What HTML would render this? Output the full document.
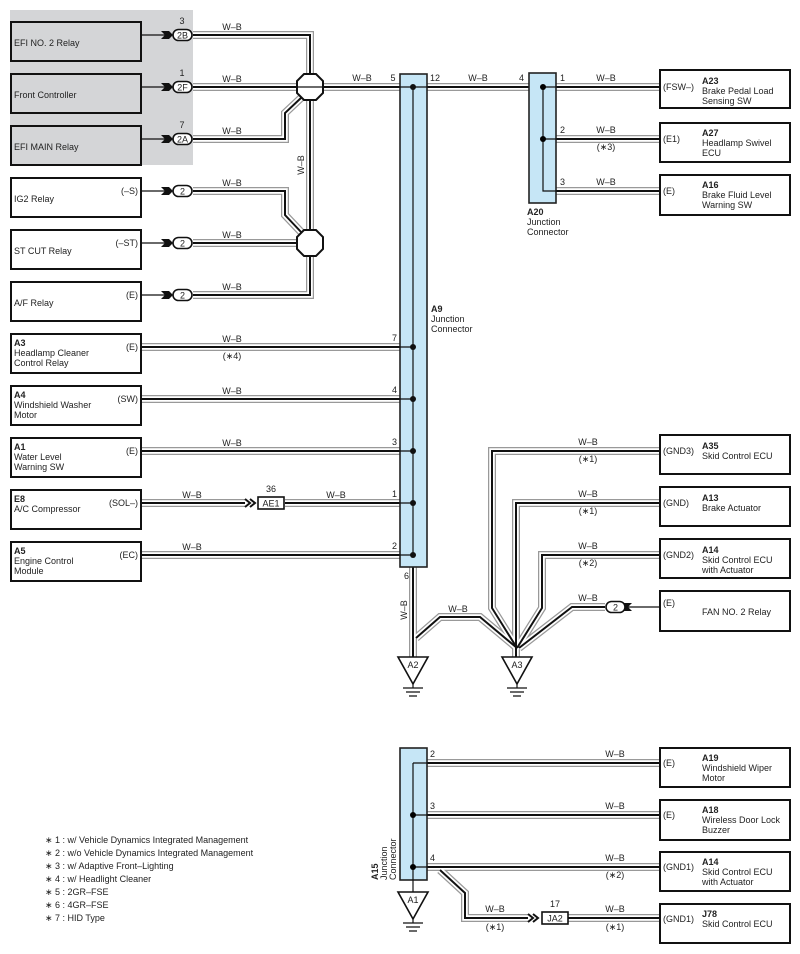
<!DOCTYPE html>
<html><head><meta charset="utf-8"><style>
html,body{margin:0;padding:0;background:#fff}
svg{display:block}
text{font-family:"Liberation Sans",sans-serif;font-size:9px;fill:#222}
.b{font-weight:bold}
.box{fill:#fff;stroke:#111;stroke-width:2}
.gbox{fill:#d4d5d7;stroke:#111;stroke-width:2}
.bar{fill:#c6e6f6;stroke:#222;stroke-width:1.6}
.pill{fill:#fff;stroke:#111;stroke-width:1.6}
.ln{stroke:#111;stroke-width:1.2;fill:none}
</style></head><body>
<svg width="800" height="954" viewBox="0 0 800 954" xmlns="http://www.w3.org/2000/svg">
<defs>
<g id="w" fill="none">
<path d="M193,35 H310 V75"/>
<path d="M193,87 H400"/>
<path d="M193,139 H285 V113 L302,97"/>
<path d="M310,99 V231"/>
<path d="M193,191 H285 V215 L302,233"/>
<path d="M193,243 H296"/>
<path d="M193,295 H310 V257"/>
<path d="M427,87 H529"/>
<path d="M556,87 H660"/>
<path d="M556,139 H660"/>
<path d="M556,191 H660"/>
<path d="M141,347 H400"/>
<path d="M141,399 H400"/>
<path d="M141,451 H400"/>
<path d="M141,503 H245"/>
<path d="M285,503 H400"/>
<path d="M141,555 H400"/>
<path d="M413,567 V657"/>
<path d="M416,638 L440,617 H480 L517,648"/>
<path d="M660,451 H492 V608 L517,648"/>
<path d="M660,503 H516 V657"/>
<path d="M660,555 H542 V608 L517,648"/>
<path d="M605,607 H572 L519,648"/>
<path d="M427,763 H660"/>
<path d="M427,815 H660"/>
<path d="M427,867 H660"/>
<path d="M440,870 L465,893 V918 H528"/>
<path d="M568,918 H660"/>
</g>
</defs>
<rect x="10" y="10" width="183" height="155" fill="#d4d5d7"/>
<g stroke-linejoin="miter">
<use href="#w" stroke="#999" stroke-width="8"/>
<use href="#w" stroke="#fff" stroke-width="5.5"/>
<use href="#w" stroke="#111" stroke-width="2"/>
</g>

<rect class="gbox" x="11" y="22" width="130" height="39"/><text x="14" y="46">EFI NO. 2 Relay</text>
<rect class="gbox" x="11" y="74" width="130" height="39"/><text x="14" y="98">Front Controller</text>
<rect class="gbox" x="11" y="126" width="130" height="39"/><text x="14" y="150">EFI MAIN Relay</text>
<rect class="box" x="11" y="178" width="130" height="39"/><text x="14" y="202">IG2 Relay</text><text x="138" y="194" text-anchor="end">(–S)</text>
<rect class="box" x="11" y="230" width="130" height="39"/><text x="14" y="254">ST CUT Relay</text><text x="138" y="246" text-anchor="end">(–ST)</text>
<rect class="box" x="11" y="282" width="130" height="39"/><text x="14" y="306">A/F Relay</text><text x="138" y="298" text-anchor="end">(E)</text>
<rect class="box" x="11" y="334" width="130" height="39"/><text x="14" y="346" class="b">A3</text><text x="14" y="356">Headlamp Cleaner</text><text x="14" y="366">Control Relay</text><text x="138" y="350" text-anchor="end">(E)</text>
<rect class="box" x="11" y="386" width="130" height="39"/><text x="14" y="398" class="b">A4</text><text x="14" y="408">Windshield Washer</text><text x="14" y="418">Motor</text><text x="138" y="402" text-anchor="end">(SW)</text>
<rect class="box" x="11" y="438" width="130" height="39"/><text x="14" y="450" class="b">A1</text><text x="14" y="460">Water Level</text><text x="14" y="470">Warning SW</text><text x="138" y="454" text-anchor="end">(E)</text>
<rect class="box" x="11" y="490" width="130" height="39"/><text x="14" y="502" class="b">E8</text><text x="14" y="512">A/C Compressor</text><text x="138" y="506" text-anchor="end">(SOL–)</text>
<rect class="box" x="11" y="542" width="130" height="39"/><text x="14" y="554" class="b">A5</text><text x="14" y="564">Engine Control</text><text x="14" y="574">Module</text><text x="138" y="558" text-anchor="end">(EC)</text>

<g>
<path class="ln" d="M141,35H166M141,87H166M141,139H166M141,191H166M141,243H166M141,295H166"/>
<g fill="#111">
<path d="M161,31 L169,31 L173,35 L169,39 L161,39 L165,35Z"/>
<path d="M161,83 L169,83 L173,87 L169,91 L161,91 L165,87Z"/>
<path d="M161,135 L169,135 L173,139 L169,143 L161,143 L165,139Z"/>
<path d="M161,187 L169,187 L173,191 L169,195 L161,195 L165,191Z"/>
<path d="M161,239 L169,239 L173,243 L169,247 L161,247 L165,243Z"/>
<path d="M161,291 L169,291 L173,295 L169,299 L161,299 L165,295Z"/>
</g>
<rect class="pill" x="173" y="29.5" width="19" height="11" rx="5.5"/><text x="182.5" y="38.5" text-anchor="middle">2B</text><text x="182" y="24" text-anchor="middle">3</text>
<rect class="pill" x="173" y="81.5" width="19" height="11" rx="5.5"/><text x="182.5" y="90.5" text-anchor="middle">2F</text><text x="182" y="76" text-anchor="middle">1</text>
<rect class="pill" x="173" y="133.5" width="19" height="11" rx="5.5"/><text x="182.5" y="142.5" text-anchor="middle">2A</text><text x="182" y="128" text-anchor="middle">7</text>
<rect class="pill" x="173" y="185.5" width="19" height="11" rx="5.5"/><text x="182.5" y="194.5" text-anchor="middle">2</text>
<rect class="pill" x="173" y="237.5" width="19" height="11" rx="5.5"/><text x="182.5" y="246.5" text-anchor="middle">2</text>
<rect class="pill" x="173" y="289.5" width="19" height="11" rx="5.5"/><text x="182.5" y="298.5" text-anchor="middle">2</text>
</g>

<polygon fill="#fff" stroke="#111" stroke-width="2" points="304,74 316,74 323,81 323,93 316,100 304,100 297,93 297,81"/>
<polygon fill="#fff" stroke="#111" stroke-width="2" points="304,230 316,230 323,237 323,249 316,256 304,256 297,249 297,237"/>

<g text-anchor="middle">
<text x="232" y="30">W–B</text><text x="232" y="82">W–B</text><text x="232" y="134">W–B</text>
<text x="232" y="186">W–B</text><text x="232" y="238">W–B</text><text x="232" y="290">W–B</text>
<text x="362" y="81">W–B</text><text x="393" y="81">5</text>
<text x="478" y="81">W–B</text>
<text x="232" y="342">W–B</text><text x="232" y="359">(∗4)</text>
<text x="232" y="394">W–B</text><text x="232" y="446">W–B</text>
<text x="192" y="498">W–B</text><text x="336" y="498">W–B</text>
<text x="192" y="550">W–B</text>
<text x="606" y="81">W–B</text><text x="606" y="133">W–B</text><text x="606" y="150">(∗3)</text><text x="606" y="185">W–B</text>
<text x="588" y="445">W–B</text><text x="588" y="462">(∗1)</text>
<text x="588" y="497">W–B</text><text x="588" y="514">(∗1)</text>
<text x="588" y="549">W–B</text><text x="588" y="566">(∗2)</text>
<text x="588" y="601">W–B</text>
<text x="458" y="612">W–B</text>
<text x="615" y="757">W–B</text><text x="615" y="809">W–B</text><text x="615" y="861">W–B</text><text x="615" y="878">(∗2)</text>
<text x="495" y="912">W–B</text><text x="495" y="930">(∗1)</text>
<text x="615" y="912">W–B</text><text x="615" y="930">(∗1)</text>
</g>
<text transform="translate(304,165) rotate(-90)" text-anchor="middle">W–B</text>
<text transform="translate(407,610) rotate(-90)" text-anchor="middle">W–B</text>

<rect class="bar" x="400" y="74" width="27" height="493"/>
<path class="ln" d="M413,87V555"/>
<g fill="#111"><circle cx="413" cy="87" r="3"/><circle cx="413" cy="347" r="3"/><circle cx="413" cy="399" r="3"/><circle cx="413" cy="451" r="3"/><circle cx="413" cy="503" r="3"/><circle cx="413" cy="555" r="3"/></g>
<path class="ln" d="M141,347H413M141,399H413M141,451H413M141,503H245M285,503H413M141,555H413M193,87H413M413,87H529"/>
<g text-anchor="end"><text x="397" y="341">7</text><text x="397" y="393">4</text><text x="397" y="445">3</text><text x="397" y="497">1</text><text x="397" y="549">2</text><text x="409" y="579">6</text></g>
<text x="430" y="81">12</text><text x="524" y="81" text-anchor="end">4</text>
<text x="431" y="312" class="b">A9</text><text x="431" y="322">Junction</text><text x="431" y="332">Connector</text>

<path d="M245,499 L250,503 L245,507 M250,499 L255,503 L250,507" stroke="#111" stroke-width="2" fill="none"/>
<rect x="258" y="497" width="26" height="12" fill="#fff" stroke="#111" stroke-width="1.6"/><text x="271" y="506.5" text-anchor="middle">AE1</text><text x="271" y="492" text-anchor="middle">36</text>

<rect class="bar" x="529" y="73" width="27" height="130"/>
<path class="ln" d="M543,87V191H660M543,87H660M543,139H660"/>
<circle cx="543" cy="87" r="3"/><circle cx="543" cy="139" r="3"/>
<text x="560" y="81">1</text><text x="560" y="133">2</text><text x="560" y="185">3</text>
<text x="527" y="215" class="b">A20</text><text x="527" y="225">Junction</text><text x="527" y="235">Connector</text>

<rect class="box" x="660" y="70" width="130" height="38"/><text x="663" y="90">(FSW–)</text><text x="702" y="84" class="b">A23</text><text x="702" y="94">Brake Pedal Load</text><text x="702" y="104">Sensing SW</text>
<rect class="box" x="660" y="123" width="130" height="39"/><text x="663" y="142">(E1)</text><text x="702" y="136" class="b">A27</text><text x="702" y="146">Headlamp Swivel</text><text x="702" y="156">ECU</text>
<rect class="box" x="660" y="175" width="130" height="40"/><text x="663" y="194">(E)</text><text x="702" y="188" class="b">A16</text><text x="702" y="198">Brake Fluid Level</text><text x="702" y="208">Warning SW</text>
<rect class="box" x="660" y="435" width="130" height="39"/><text x="663" y="454">(GND3)</text><text x="702" y="449" class="b">A35</text><text x="702" y="459">Skid Control ECU</text>
<rect class="box" x="660" y="487" width="130" height="39"/><text x="663" y="506">(GND)</text><text x="702" y="501" class="b">A13</text><text x="702" y="511">Brake Actuator</text>
<rect class="box" x="660" y="539" width="130" height="39"/><text x="663" y="558">(GND2)</text><text x="702" y="553" class="b">A14</text><text x="702" y="563">Skid Control ECU</text><text x="702" y="573">with Actuator</text>
<rect class="box" x="660" y="591" width="130" height="40"/><text x="663" y="606">(E)</text><text x="702" y="615">FAN NO. 2 Relay</text>
<path class="ln" d="M660,607H628"/>
<path d="M632,603 L624,603 L620,607 L624,611 L632,611 L628,607Z" fill="#111"/>
<rect class="pill" x="606" y="601.5" width="19" height="11" rx="5.5"/><text x="615.5" y="610.5" text-anchor="middle">2</text>

<g>
<polygon points="398,657 428,657 413,684" fill="#fff" stroke="#111" stroke-width="1.6"/><text x="413" y="668" text-anchor="middle">A2</text>
<path class="ln" d="M413,684V688M403,688H423M406,692H420M409,696H417"/>
<polygon points="502,657 532,657 517,684" fill="#fff" stroke="#111" stroke-width="1.6"/><text x="517" y="668" text-anchor="middle">A3</text>
<path class="ln" d="M517,684V688M507,688H527M510,692H524M513,696H521"/>
</g>

<rect class="bar" x="400" y="748" width="27" height="132"/>
<path class="ln" d="M413,763V892M413,763H660M413,815H660M413,867H660"/>
<circle cx="413" cy="815" r="3"/><circle cx="413" cy="867" r="3"/>
<text x="430" y="757">2</text><text x="430" y="809">3</text><text x="430" y="861">4</text>
<text transform="translate(378,880) rotate(-90)" class="b">A15</text>
<text transform="translate(387,880) rotate(-90)">Junction</text>
<text transform="translate(396,880) rotate(-90)">Connector</text>
<polygon points="398,892 428,892 413,919" fill="#fff" stroke="#111" stroke-width="1.6"/><text x="413" y="903" text-anchor="middle">A1</text>
<path class="ln" d="M413,919V923M403,923H423M406,927H420M409,931H417"/>
<path d="M528,914 L533,918 L528,922 M533,914 L538,918 L533,922" stroke="#111" stroke-width="2" fill="none"/>
<rect x="542" y="912" width="26" height="12" fill="#fff" stroke="#111" stroke-width="1.6"/><text x="555" y="921.5" text-anchor="middle">JA2</text><text x="555" y="907" text-anchor="middle">17</text>

<rect class="box" x="660" y="748" width="130" height="39"/><text x="663" y="766">(E)</text><text x="702" y="761" class="b">A19</text><text x="702" y="771">Windshield Wiper</text><text x="702" y="781">Motor</text>
<rect class="box" x="660" y="800" width="130" height="40"/><text x="663" y="818">(E)</text><text x="702" y="813" class="b">A18</text><text x="702" y="823">Wireless Door Lock</text><text x="702" y="833">Buzzer</text>
<rect class="box" x="660" y="852" width="130" height="39"/><text x="663" y="870">(GND1)</text><text x="702" y="865" class="b">A14</text><text x="702" y="875">Skid Control ECU</text><text x="702" y="885">with Actuator</text>
<rect class="box" x="660" y="904" width="130" height="39"/><text x="663" y="922">(GND1)</text><text x="702" y="917" class="b">J78</text><text x="702" y="927">Skid Control ECU</text>

<g style="font-size:8.5px">
<text x="45" y="843">∗ 1 : w/ Vehicle Dynamics Integrated Management</text>
<text x="45" y="856">∗ 2 : w/o Vehicle Dynamics Integrated Management</text>
<text x="45" y="869">∗ 3 : w/ Adaptive Front–Lighting</text>
<text x="45" y="882">∗ 4 : w/ Headlight Cleaner</text>
<text x="45" y="895">∗ 5 : 2GR–FSE</text>
<text x="45" y="908">∗ 6 : 4GR–FSE</text>
<text x="45" y="921">∗ 7 : HID Type</text>
</g>
</svg>
</body></html>
